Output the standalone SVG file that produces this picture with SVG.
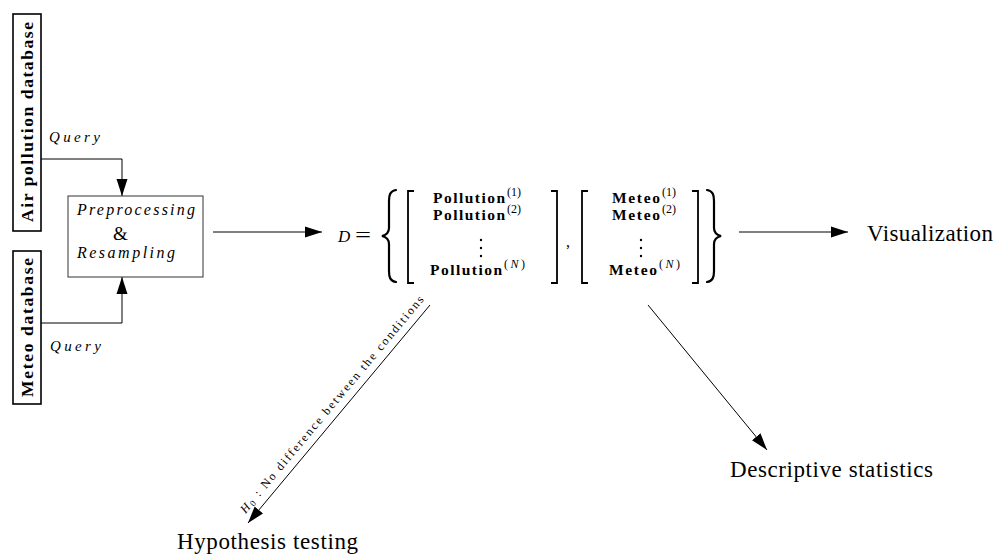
<svg xmlns="http://www.w3.org/2000/svg" width="995" height="554" viewBox="0 0 995 554">
<defs>
<marker id="ah" markerUnits="userSpaceOnUse" markerWidth="17" markerHeight="12" refX="17" refY="6" orient="auto"><path d="M0,0.5 L17,6 L0,11.5 Z" fill="#000"/></marker>
</defs>
<style>
.s{font-family:"Liberation Serif","DejaVu Serif",serif;fill:#000}
.it{font-style:italic}
.b{font-weight:bold}
.conn{stroke:#000;stroke-width:1;fill:none;marker-end:url(#ah)}
.db{fill:#fff;stroke:#000;stroke-width:1.6}
.br{fill:none;stroke:#000;stroke-width:1.8}
.brc{fill:none;stroke:#000;stroke-width:2.2;stroke-linecap:round}
.big{font-size:23px}
.bold16{font-size:15.5px;font-weight:bold}
.sup{font-size:12px}
</style>
<rect width="995" height="554" fill="#fff"/>

<g id="connectors">
<path class="conn" d="M41,159 H122 V196"/>
<path class="conn" d="M41,323 H122 V277"/>
<path class="conn" d="M213,232 H322"/>
<path class="conn" d="M739,232 H848"/>
<path class="conn" d="M430,305 L248,523"/>
<path class="conn" d="M648,305 L767,450"/>
<text class="s it" font-size="15" x="49" y="142" textLength="51" lengthAdjust="spacing">Query</text>
<text class="s it" font-size="15" x="50" y="351" textLength="51" lengthAdjust="spacing">Query</text>
<g transform="translate(341,412) rotate(-50.1)">
<text class="s" font-size="12" x="0" y="-8" text-anchor="middle" textLength="279" lengthAdjust="spacing"><tspan font-style="italic">H</tspan><tspan font-size="9" dy="2">0</tspan><tspan dy="-2"> : No difference between the conditions</tspan></text>
</g>
</g>

<g id="air-db">
<rect class="db" x="13" y="14" width="28" height="217"/>
<text class="s b" font-size="17.5" transform="translate(33.3,122) rotate(-90)" text-anchor="middle" textLength="200" lengthAdjust="spacing">Air pollution database</text>
</g>

<g id="meteo-db">
<rect class="db" x="13" y="251" width="28" height="153"/>
<text class="s b" font-size="17.5" transform="translate(33.3,327.5) rotate(-90)" text-anchor="middle" textLength="139" lengthAdjust="spacing">Meteo database</text>
</g>

<g id="preproc">
<rect x="68" y="196" width="135" height="81" fill="#fff" stroke="#333" stroke-width="1"/>
<text class="s it" font-size="16" x="77" y="215" textLength="118" lengthAdjust="spacing">Preprocessing</text>
<text class="s" font-size="19" x="113" y="240">&amp;</text>
<text class="s it" font-size="16" x="77" y="258" textLength="98" lengthAdjust="spacing">Resampling</text>
</g>

<g id="dataset">
<text class="s it" font-size="17" x="338" y="242">D</text>
<text class="s" font-size="20" x="355" y="242" textLength="16" lengthAdjust="spacingAndGlyphs">=</text>
<path class="brc" d="M396,190 C390,191 389,195 389,201 L389,228 C389,232 386,235 382,236 C386,237 389,240 389,244 L389,271 C389,277 390,281 396,282"/>
<path class="br" d="M414,191 H408 V283 H414"/>
<text class="s bold16" x="433" y="203" textLength="72" lengthAdjust="spacing">Pollution</text>
<text class="s sup" x="507" y="196">(1)</text>
<text class="s bold16" x="433" y="220" textLength="72" lengthAdjust="spacing">Pollution</text>
<text class="s sup" x="507" y="213">(2)</text>
<circle cx="481" cy="240" r="1.2"/><circle cx="481" cy="248" r="1.2"/><circle cx="481" cy="256" r="1.2"/>
<text class="s bold16" x="430" y="275" textLength="72" lengthAdjust="spacing">Pollution</text>
<text class="s sup" x="504" y="268" textLength="21" lengthAdjust="spacing">(<tspan font-style="italic">N</tspan>)</text>
<path class="br" d="M551,191 H557 V283 H551"/>
<text class="s" font-size="16" x="566" y="247">,</text>
<path class="br" d="M588,191 H582 V283 H588"/>
<text class="s bold16" x="612" y="203" textLength="48" lengthAdjust="spacing">Meteo</text>
<text class="s sup" x="662" y="196">(1)</text>
<text class="s bold16" x="612" y="220" textLength="48" lengthAdjust="spacing">Meteo</text>
<text class="s sup" x="662" y="213">(2)</text>
<circle cx="641" cy="240" r="1.2"/><circle cx="641" cy="248" r="1.2"/><circle cx="641" cy="256" r="1.2"/>
<text class="s bold16" x="609" y="275" textLength="48" lengthAdjust="spacing">Meteo</text>
<text class="s sup" x="659" y="268" textLength="21" lengthAdjust="spacing">(<tspan font-style="italic">N</tspan>)</text>
<path class="br" d="M692,191 H698 V283 H692"/>
<path class="brc" d="M707,190 C713,191 714,195 714,201 L714,228 C714,232 717,235 721,236 C717,237 714,240 714,244 L714,271 C714,277 713,281 707,282"/>
</g>

<g id="visualization">
<text class="s big" x="867" y="241" textLength="126" lengthAdjust="spacing">Visualization</text>
</g>
<g id="hypothesis">
<text class="s big" x="177" y="549" textLength="181" lengthAdjust="spacing">Hypothesis testing</text>
</g>
<g id="descriptive">
<text class="s big" x="730" y="477" textLength="203" lengthAdjust="spacing">Descriptive statistics</text>
</g>
</svg>
